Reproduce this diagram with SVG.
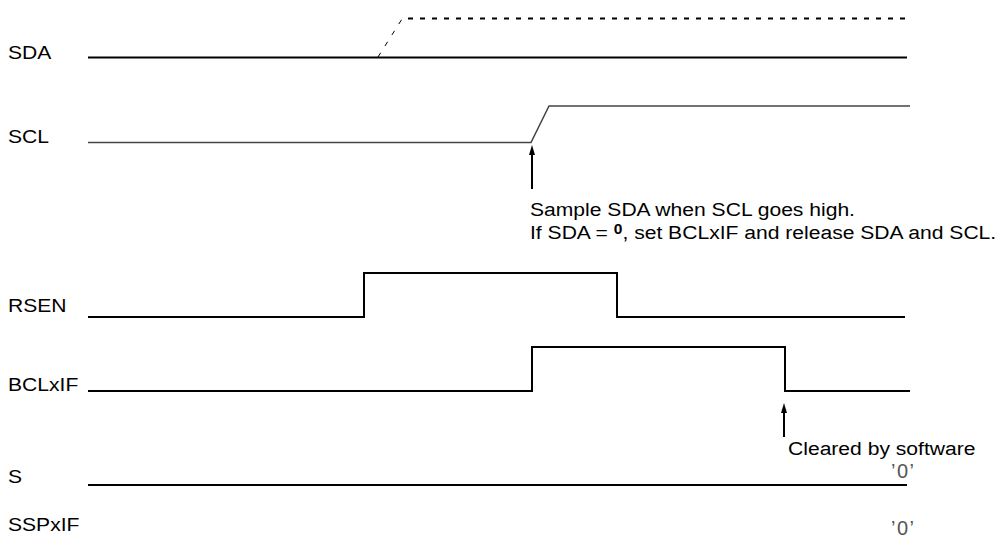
<svg xmlns="http://www.w3.org/2000/svg" width="1003" height="537" viewBox="0 0 1003 537">
<defs>
<style>
.lbl{font-family:"Liberation Sans",Arial,sans-serif;font-size:19px;fill:#000}
.sig{fill:none;stroke:#000;stroke-width:2}
.thin{fill:none;stroke:#444;stroke-width:1.5}
.zero{font-family:"Liberation Sans",Arial,sans-serif;font-size:20px;fill:#555;letter-spacing:1.5px}
.arr{stroke:#000;stroke-width:2;marker-end:url(#ah)}
</style>
<marker id="ah" viewBox="0 0 10 6" refX="2" refY="3" markerWidth="10" markerHeight="6" markerUnits="userSpaceOnUse" orient="auto">
<path d="M0,0 L10,3 L0,6 Z" fill="#000"/>
</marker>
</defs>
<g id="labels">
<text class="lbl" transform="translate(8,59) scale(1.11,1)">SDA</text>
<text class="lbl" transform="translate(8,143) scale(1.11,1)">SCL</text>
<text class="lbl" transform="translate(8,312) scale(1.11,1)">RSEN</text>
<text class="lbl" transform="translate(8,391) scale(1.11,1)">BCLxIF</text>
<text class="lbl" transform="translate(8,483) scale(1.11,1)">S</text>
<text class="lbl" transform="translate(8,531) scale(1.11,1)">SSPxIF</text>
</g>
<g id="sda">
<line class="sig" x1="88" y1="57.5" x2="907" y2="57.5"/>
<line x1="378" y1="57" x2="402" y2="19" stroke="#000" stroke-width="1" stroke-dasharray="5,8"/>
<line x1="408" y1="18.5" x2="910" y2="18.5" stroke="#000" stroke-width="2" stroke-dasharray="5,7"/>
</g>
<g id="scl">
<polyline class="thin" points="88,142.5 531,142.5 549,106 910,106"/>
</g>
<g id="rsen">
<polyline class="sig" points="88,317 364,317 364,273 617,273 617,317 905,317"/>
</g>
<g id="bclxif">
<polyline class="sig" points="88,391 532,391 532,347 785,347 785,391 910,391"/>
</g>
<g id="s">
<line class="sig" x1="88" y1="485" x2="907" y2="485"/>
<text class="zero" x="891" y="478">’0’</text>
</g>
<g id="sspxif">
<text class="zero" x="891" y="535">’0’</text>
</g>
<g id="connectors">
<line class="arr" x1="532" y1="189" x2="532" y2="153"/>
<line class="arr" x1="784" y1="437" x2="784" y2="411"/>
</g>
<g id="notes">
<text class="lbl" transform="translate(530,216) scale(1.11,1)">Sample SDA when SCL goes high.</text>
<text class="lbl" transform="translate(530,239) scale(1.11,1)">If SDA = <tspan font-weight="bold" font-size="14" dy="-5">0</tspan><tspan dy="5">, set BCLxIF and release SDA and SCL.</tspan></text>
<text class="lbl" transform="translate(788,455) scale(1.11,1)">Cleared by software</text>
</g>
</svg>
